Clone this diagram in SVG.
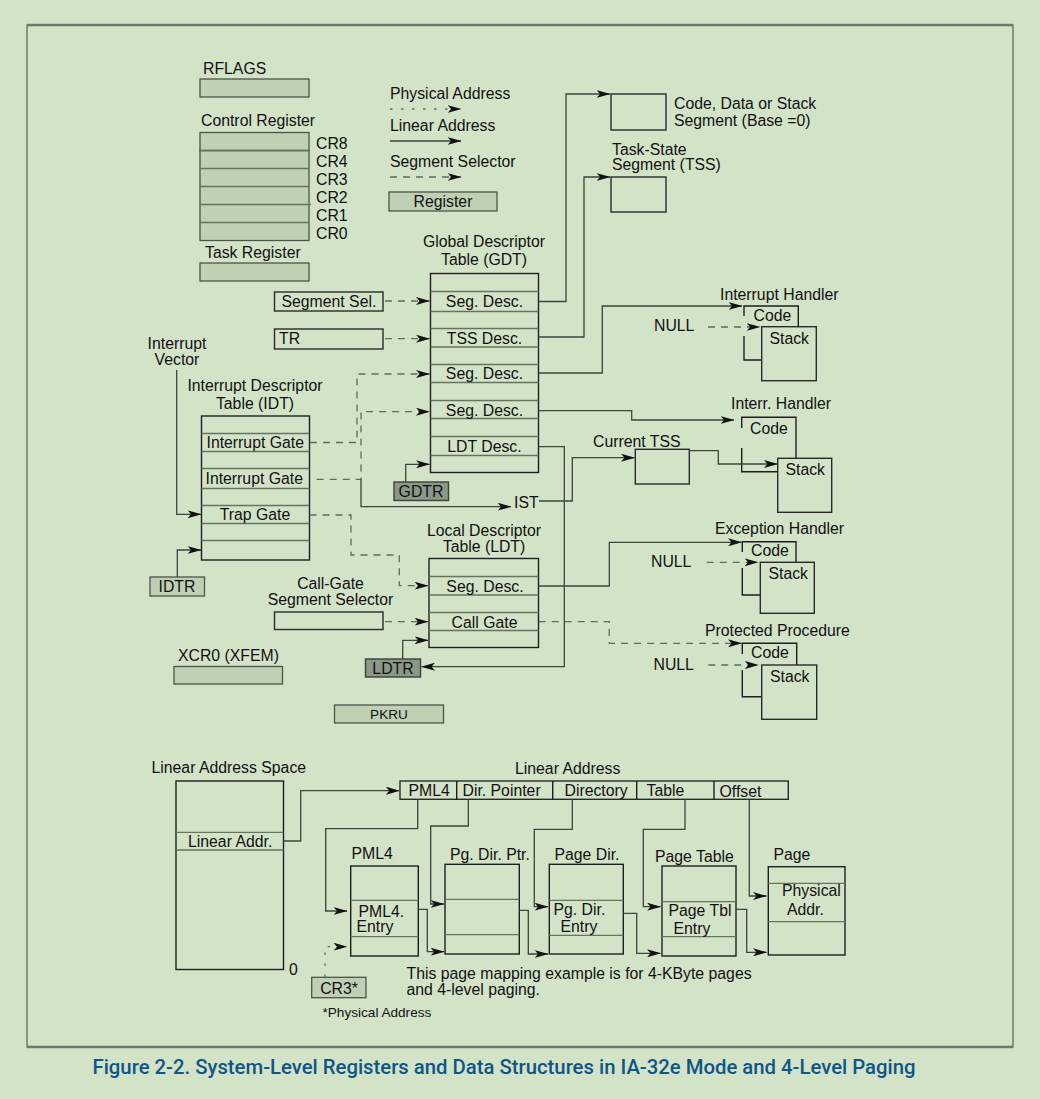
<svg xmlns="http://www.w3.org/2000/svg" width="1040" height="1099" viewBox="0 0 1040 1099">
<defs>
<style>
.t{font-family:"Liberation Sans",Arial,sans-serif;font-size:15.8px;fill:#111}
.s{font-family:"Liberation Sans",Arial,sans-serif;font-size:13.6px;fill:#111}
.m{text-anchor:middle}
.reg{fill:#bfd0b4;stroke:#4a5548;stroke-width:1.3}
.regd{fill:#8b9787;stroke:#3a4438;stroke-width:1.4}
.tbl{fill:none;stroke:#1e1e1e;stroke-width:1.4}
.box{fill:#d3e3c8;stroke:#2a2a2a;stroke-width:1.4}
.row{stroke:#66735f;stroke-width:1.3;fill:none}
.ln{fill:none;stroke:#3c463c;stroke-width:1.3}
.ds{fill:none;stroke:#5f6c5b;stroke-width:1.3;stroke-dasharray:7 6}
.dt{fill:none;stroke:#5f6c5b;stroke-width:1.3;stroke-dasharray:2.5 8.5}
.arr{marker-end:url(#ah)}
</style>
<marker id="ah" viewBox="0 0 14 8" markerWidth="14" markerHeight="8" refX="13.5" refY="4" orient="auto" markerUnits="userSpaceOnUse">
<path d="M0,0 L14,4 L0,8 L3.5,4 Z" fill="#111"/>
</marker>
</defs>

<!-- page background and frame -->
<rect x="0" y="0" width="1040" height="1099" fill="#d3e3c8"/>
<rect x="27" y="25" width="986" height="1022" fill="none" stroke="#3e463c" stroke-width="1"/>
<line x1="27" y1="25" x2="1013" y2="25" stroke="#6e7a69" stroke-width="2.5"/>
<line x1="27" y1="1047" x2="1013" y2="1047" stroke="#6e7a69" stroke-width="2.5"/>

<!-- registers -->
<g id="rflags">
<text class="t" x="203" y="74">RFLAGS</text>
<rect class="reg" x="200" y="79" width="109" height="18"/>
</g>
<g id="control-registers">
<text class="t" x="201" y="126">Control Register</text>
<rect class="reg" x="200" y="150.5" width="109" height="90" stroke="#1e1e1e"/>
<rect class="reg" x="200" y="132.5" width="109" height="18"/>
<line class="row" x1="200" y1="150.5" x2="309" y2="150.5" stroke="#1e1e1e"/>
<path class="row" d="M200,168.5H309M200,186.5H309M200,204.5H311M200,222.5H309"/>
<text class="t" x="316" y="148.5">CR8</text>
<text class="t" x="316" y="166.5">CR4</text>
<text class="t" x="316" y="184.5">CR3</text>
<text class="t" x="316" y="202.5">CR2</text>
<text class="t" x="316" y="220.5">CR1</text>
<text class="t" x="316" y="238.5">CR0</text>
</g>
<g id="task-register">
<text class="t" x="205" y="258">Task Register</text>
<rect class="reg" x="200" y="263" width="109" height="18"/>
</g>

<!-- legend -->
<g id="legend">
<text class="t" x="390" y="99">Physical Address</text>
<path class="dt arr" d="M390,109H461"/>
<text class="t" x="390" y="131">Linear Address</text>
<path class="ln arr" d="M390,141H461"/>
<text class="t" x="390" y="167">Segment Selector</text>
<path class="ds arr" d="M390,177H461"/>
<rect class="reg" x="389" y="192" width="108" height="19"/>
<text class="t m" x="443" y="206.5">Register</text>
</g>

<!-- segments -->
<g id="code-data-stack-segment">
<rect class="box" x="611" y="94" width="55" height="36"/>
<text class="t" x="674" y="108.5">Code, Data or Stack</text>
<text class="t" x="674" y="125.5">Segment (Base =0)</text>
</g>
<g id="tss">
<text class="t" x="612" y="155">Task-State</text>
<text class="t" x="612" y="170">Segment (TSS)</text>
<rect class="box" x="611" y="177" width="55" height="35"/>
</g>

<!-- GDT -->
<g id="gdt">
<text class="t m" x="484" y="247">Global Descriptor</text>
<text class="t m" x="484" y="265">Table (GDT)</text>
<rect class="tbl" x="430.5" y="273.5" width="108" height="199"/>
<path class="row" d="M430.5,291.5H538.5M430.5,311.5H538.5M430.5,328.5H538.5M430.5,347H538.5M430.5,364.5H538.5M430.5,382.5H538.5M430.5,400.5H538.5M430.5,418.5H538.5M430.5,436.5H538.5M430.5,455.5H538.5"/>
<text class="t m" x="484.5" y="307">Seg. Desc.</text>
<text class="t m" x="484.5" y="344">TSS Desc.</text>
<text class="t m" x="484.5" y="379">Seg. Desc.</text>
<text class="t m" x="484.5" y="415.5">Seg. Desc.</text>
<text class="t m" x="484.5" y="452">LDT Desc.</text>
</g>
<g id="segment-sel">
<rect class="box" x="274.5" y="292" width="108.5" height="19"/>
<text class="t" x="281.5" y="306.5">Segment Sel.</text>
</g>
<g id="tr">
<rect class="box" x="274.5" y="329" width="108.5" height="20"/>
<text class="t" x="279" y="344">TR</text>
</g>
<g id="gdtr">
<rect class="regd" x="394" y="482" width="54.5" height="18.5"/>
<text class="t m" x="421" y="496.5">GDTR</text>
</g>
<g id="ist"><text class="t" x="514" y="507.5">IST</text></g>

<!-- IDT -->
<g id="interrupt-vector">
<text class="t m" x="177" y="348.5">Interrupt</text>
<text class="t m" x="177" y="364.5">Vector</text>
</g>
<g id="idt">
<text class="t m" x="255" y="391">Interrupt Descriptor</text>
<text class="t m" x="255" y="408.5">Table (IDT)</text>
<rect class="tbl" x="201.5" y="416" width="108" height="144"/>
<path class="row" d="M201.5,433.5H309.5M201.5,451.5H309.5M201.5,468.5H309.5M201.5,488.5H309.5M201.5,505.5H309.5M201.5,523.5H309.5M201.5,540.5H309.5"/>
<text class="t" x="206.5" y="447.5">Interrupt Gate</text>
<text class="t" x="205.5" y="484">Interrupt Gate</text>
<text class="t m" x="255" y="520">Trap Gate</text>
</g>
<g id="idtr">
<rect class="reg" x="150" y="577" width="54.5" height="19"/>
<text class="t m" x="177" y="592">IDTR</text>
</g>

<!-- LDT -->
<g id="ldt">
<text class="t m" x="484" y="536">Local Descriptor</text>
<text class="t m" x="484" y="552">Table (LDT)</text>
<rect class="tbl" x="429" y="558.5" width="109.5" height="89"/>
<path class="row" d="M429,576.5H538.5M429,595H538.5M429,612.5H538.5M429,630.5H538.5"/>
<text class="t m" x="485" y="592">Seg. Desc.</text>
<text class="t m" x="484.5" y="628">Call Gate</text>
</g>
<g id="call-gate-selector">
<text class="t m" x="330.5" y="589">Call-Gate</text>
<text class="t m" x="330.5" y="605">Segment Selector</text>
<rect class="box" x="274.5" y="612" width="108.5" height="17.5"/>
</g>
<g id="ldtr">
<rect class="regd" x="365.5" y="659" width="55" height="18"/>
<text class="t m" x="393" y="673.5">LDTR</text>
</g>
<g id="xcr0">
<text class="t" x="178" y="661">XCR0 (XFEM)</text>
<rect class="reg" x="174" y="666.5" width="108.5" height="17.5"/>
</g>
<g id="pkru">
<rect class="reg" x="334.5" y="705" width="109" height="18"/>
<text class="s m" x="389" y="718.5">PKRU</text>
</g>

<!-- handlers -->
<g id="interrupt-handler">
<text class="t" x="720" y="299.5">Interrupt Handler</text>
<path class="tbl" d="M744,316V306H798.3V327M744,336V360H762"/>
<rect class="box" x="761.7" y="326.7" width="54.6" height="54"/>
<text class="t" x="753.5" y="321">Code</text>
<text class="t" x="769.5" y="343.5">Stack</text>
<text class="t" x="654" y="330.5">NULL</text>
</g>
<g id="interr-handler">
<text class="t" x="731" y="408.5">Interr. Handler</text>
<path class="tbl" d="M741.7,428V417.3H796V458.3M741.7,448V471.7H777.7"/>
<rect class="box" x="777.7" y="458.3" width="54" height="54"/>
<text class="t" x="750" y="433.5">Code</text>
<text class="t" x="785.5" y="474.5">Stack</text>
</g>
<g id="current-tss">
<text class="t" x="593" y="446.5">Current TSS</text>
<rect class="box" x="635.3" y="449.3" width="54" height="34.7"/>
</g>
<g id="exception-handler">
<text class="t" x="715" y="534">Exception Handler</text>
<path class="tbl" d="M742.3,552V541.7H796V562.3M742.3,568V595H760.3"/>
<rect class="box" x="760.3" y="562.3" width="54" height="51"/>
<text class="t" x="751" y="556">Code</text>
<text class="t" x="768.5" y="578.5">Stack</text>
<text class="t" x="651" y="567">NULL</text>
</g>
<g id="protected-procedure">
<text class="t" x="705" y="635.5">Protected Procedure</text>
<path class="tbl" d="M742.3,654V643.3H796.7V665M742.3,670V696.7H761.7"/>
<rect class="box" x="761.7" y="665" width="55" height="54.3"/>
<text class="t" x="751" y="658">Code</text>
<text class="t" x="770" y="682">Stack</text>
<text class="t" x="653.5" y="669.5">NULL</text>
</g>

<!-- paging structures -->
<g id="linear-address-space">
<text class="t" x="151.5" y="772.5">Linear Address Space</text>
<rect class="tbl" x="176" y="781" width="107.5" height="188.5"/>
<path class="row" d="M176,832.3H283.5M176,850H283.5"/>
<text class="t" x="188" y="847">Linear Addr.</text>
<text class="t" x="289" y="975">0</text>
</g>
<g id="linear-address">
<text class="t" x="515" y="773.5">Linear Address</text>
<rect class="box" x="400" y="781" width="388.3" height="18.3"/>
<path class="tbl" d="M456.7,781V799.3M552.7,781V799.3M636.7,781V799.3M714,781V799.3"/>
<text class="t" x="408.5" y="796">PML4</text>
<text class="t" x="462.5" y="796">Dir. Pointer</text>
<text class="t" x="564.5" y="796">Directory</text>
<text class="t" x="646.5" y="796">Table</text>
<text class="t" x="719.5" y="797">Offset</text>
</g>
<g id="pml4">
<text class="t" x="351.5" y="858.5">PML4</text>
<rect class="tbl" x="350.7" y="866" width="67.6" height="90"/>
<path class="row" d="M350.7,900.3H418.3M350.7,936.7H418.3"/>
<text class="t" x="358.5" y="917">PML4.</text>
<text class="t" x="356.5" y="932">Entry</text>
</g>
<g id="pg-dir-ptr">
<text class="t" x="450" y="859.5">Pg. Dir. Ptr.</text>
<rect class="tbl" x="445" y="864.3" width="74.3" height="89.7"/>
<path class="row" d="M445,899.3H519.3M445,934.7H519.3"/>
</g>
<g id="page-dir">
<text class="t" x="554.5" y="859.5">Page Dir.</text>
<rect class="tbl" x="549.3" y="864.3" width="74" height="89.7"/>
<path class="row" d="M549.3,900.3H623.3M549.3,935.3H623.3"/>
<text class="t" x="553.5" y="915">Pg. Dir.</text>
<text class="t" x="560.5" y="932">Entry</text>
</g>
<g id="page-table">
<text class="t" x="655" y="862">Page Table</text>
<rect class="tbl" x="662" y="866" width="74" height="90"/>
<path class="row" d="M662,901.7H736M662,936.7H736"/>
<text class="t" x="668.5" y="916">Page Tbl</text>
<text class="t" x="673.5" y="934">Entry</text>
</g>
<g id="page">
<text class="t" x="773.5" y="859.5">Page</text>
<rect class="tbl" x="768.3" y="866.7" width="76.7" height="88.3"/>
<path class="row" d="M768.3,883.3H845M768.3,921.7H845"/>
<text class="t" x="782" y="896">Physical</text>
<text class="t" x="787" y="915">Addr.</text>
</g>
<g id="cr3">
<rect class="reg" x="311.7" y="977.3" width="54.3" height="20.4"/>
<text class="t m" x="339" y="993.5">CR3*</text>
</g>
<g id="notes">
<text class="t" x="406.5" y="978.5">This page mapping example is for 4-KByte pages</text>
<text class="t" x="406.5" y="995">and 4-level paging.</text>
<text class="s" x="322.5" y="1017">*Physical Address</text>
</g>

<!-- connectors -->
<g id="connectors">
<path class="ds arr" d="M385,301H429.5"/>
<path class="ds arr" d="M385,338.7H429.5"/>
<path class="ds arr" d="M310,442.5H357V374H429.5"/>
<path class="ds arr" d="M316.7,479.3H361V411.7H429.5"/>
<path class="ln arr" d="M361,479.3V506.7H511"/>
<path class="ln arr" d="M176.7,370V514.3H201"/>
<path class="ln arr" d="M177.3,577V550H201"/>
<path class="ds arr" d="M309.5,515H351V555H399.3V585.7H428"/>
<path class="ln arr" d="M405.7,482V464.3H429.5"/>
<path class="ln arr" d="M538.5,301.5H566V94H610"/>
<path class="ln arr" d="M538.5,337H584V177H610"/>
<path class="ln arr" d="M538.5,373H602.3V306H742"/>
<path class="ln arr" d="M538.5,410.7H631.7V420H734"/>
<path class="ln arr" d="M538.5,446.7H564.3V666.7H421.5"/>
<path class="ln arr" d="M539,501H572.3V457.7H634.5"/>
<path class="ln arr" d="M689.3,450.7H718.3V464H777.5"/>
<path class="ds arr" d="M708,327H760"/>
<path class="ds arr" d="M706.7,562.3H758"/>
<path class="ds arr" d="M708.3,665H758.3"/>
<path class="ln arr" d="M538.7,586H609.3V542.3H741.5"/>
<path class="ds arr" d="M538.7,621.7H609.3V643.3H741.5"/>
<path class="ds arr" d="M385,621.7H428"/>
<path class="ln arr" d="M402.7,659V640.3H428"/>
<path class="ln arr" d="M283.5,841H300.7V790.7H399.3"/>
<path class="ln arr" d="M417.7,799.3V828.7H325.7V911H347"/>
<path class="ln arr" d="M468.3,799.3V826H430.7V904H444"/>
<path class="ln arr" d="M572.3,799.3V829.3H534.3V906.7H548"/>
<path class="ln arr" d="M685,799.3V829.3H643.3V906.7H660.5"/>
<path class="ln arr" d="M749.3,799.3V896H766.5"/>
<path class="dt arr" d="M325,977V946.7H347"/>
<path class="ln arr" d="M418.3,909.3H427.3V951.7H444"/>
<path class="ln arr" d="M519.3,910.3H528.3V954H548"/>
<path class="ln arr" d="M623.3,913.3H636.7V953.3H660.5"/>
<path class="ln arr" d="M736,909.3H746.7V952.3H766.5"/>
</g>

<!-- caption -->
<text x="92.5" y="1073.5" textLength="823" lengthAdjust="spacingAndGlyphs" style="font-family:Roboto,'DejaVu Sans',sans-serif;font-size:19.5px;font-weight:500;fill:#0f5585">Figure 2-2.  System-Level Registers and Data Structures in IA-32e Mode and 4-Level Paging</text>
</svg>
